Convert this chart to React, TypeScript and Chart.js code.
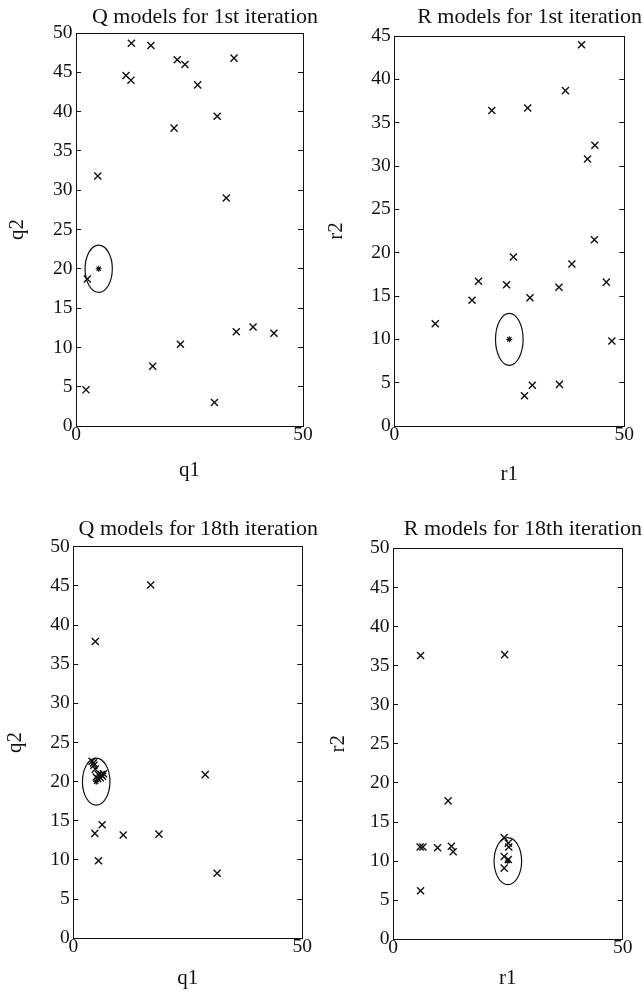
import React, { useEffect, useRef } from "react";
import { Chart, registerables } from "chart.js";

Chart.register(...registerables);

// Q models, 1st iteration
const q1Iter1 = [12.2, 16.5, 22.3, 24.0, 34.8, 11.0, 12.1, 26.8, 31.1, 21.6, 4.8, 33.1, 2.5, 35.3, 39.0, 43.6, 23.0, 16.9, 2.2, 30.5];
const q2Iter1 = [48.7, 48.4, 46.6, 46.0, 46.8, 44.6, 44.0, 43.4, 39.4, 37.9, 31.8, 29.0, 18.7, 12.0, 12.6, 11.8, 10.4, 7.6, 4.6, 3.0];

// R models, 1st iteration
const r1Iter1 = [40.7, 37.2, 21.2, 29.0, 43.6, 42.0, 43.5, 25.9, 38.6, 18.3, 24.4, 46.1, 35.8, 16.9, 29.5, 8.9, 47.3, 30.0, 35.9, 28.3];
const r2Iter1 = [44.0, 38.7, 36.4, 36.7, 32.4, 30.8, 21.5, 19.5, 18.7, 16.7, 16.3, 16.6, 16.0, 14.5, 14.8, 11.8, 9.8, 4.7, 4.8, 3.5];

// Q models, 18th iteration
const q1Iter18 = [16.9, 4.8, 28.8, 31.4, 6.3, 4.7, 10.9, 18.7, 5.5, 4.1, 4.4, 4.5, 4.8, 5.0, 5.5, 5.9, 6.4, 6.6, 5.3, 6.1];
const q2Iter18 = [45.1, 37.9, 20.9, 8.3, 14.5, 13.4, 13.2, 13.3, 9.9, 22.6, 22.4, 22.1, 21.6, 20.6, 20.9, 20.5, 20.7, 21.0, 20.4, 20.9];

// R models, 18th iteration
const r1Iter18 = [6.0, 24.3, 12.0, 5.9, 6.5, 9.7, 12.7, 13.1, 6.0, 24.2, 25.1, 25.2, 24.2, 25.1, 24.2];
const r2Iter18 = [36.3, 36.4, 17.7, 11.8, 11.8, 11.7, 11.9, 11.2, 6.2, 13.0, 12.3, 11.8, 10.6, 10.2, 9.1];

// True model (q1, q2) and (r1, r2), with the radius of the acceptance region
const trueQ = [5, 20];
const trueR = [25, 10];
const regionRadius = 3;

// Axis ranges
const axisMax = 50;
const r2Max1st = 45;
const tickStep = 5;

const SERIF = "'Liberation Serif', 'Times New Roman', Times, serif";
const INK = "#111";

const ellipsePlugin = {
  id: "confEllipse",
  afterDatasetsDraw(chart: any, _args: any, opts: any) {
    if (!opts || opts.cx == null) return;
    const xs = chart.scales.x;
    const ys = chart.scales.y;
    const cx = xs.getPixelForValue(opts.cx);
    const cy = ys.getPixelForValue(opts.cy);
    const rx = Math.abs(xs.getPixelForValue(opts.cx + opts.r) - cx);
    const ry = Math.abs(ys.getPixelForValue(opts.cy + opts.r) - cy);
    const ctx = chart.ctx;
    ctx.save();
    ctx.beginPath();
    ctx.ellipse(cx, cy, rx, ry, 0, 0, Math.PI * 2);
    ctx.strokeStyle = INK;
    ctx.lineWidth = 1.2;
    ctx.stroke();
    ctx.restore();
  },
};

type PanelProps = {
  title: string;
  xLabel: string;
  yLabel: string;
  xs: number[];
  ys: number[];
  center: number[];
  yMax: number;
  left: number;
  top: number;
  width: number;
  height: number;
  yAxisW: number;
  y2AxisW: number;
  xAxisH: number;
  titlePad: { top: number; bottom: number };
  yTitlePad: number;
  xTitlePad: number;
};

function Panel(p: PanelProps) {
  const ref = useRef<HTMLCanvasElement | null>(null);

  useEffect(() => {
    if (!ref.current) return;
    const points = p.xs.map((x, i) => ({ x, y: p.ys[i] }));
    const tickFont = { family: SERIF, size: 19.5, lineHeight: 1 };
    const labelFont = { family: SERIF, size: 21, lineHeight: 1 };
    const frame = { display: true, color: INK, width: 1 };

    const chart = new Chart(ref.current, {
      type: "scatter",
      data: {
        datasets: [
          {
            data: points,
            pointStyle: "crossRot",
            pointRadius: 5,
            borderColor: INK,
            backgroundColor: INK,
            borderWidth: 1.4,
          },
          {
            data: [{ x: p.center[0], y: p.center[1] }],
            pointStyle: "star",
            pointRadius: 3,
            borderColor: INK,
            backgroundColor: INK,
            borderWidth: 1.1,
          },
        ],
      },
      options: {
        responsive: false,
        animation: false,
        events: [],
        layout: { padding: 0 },
        plugins: {
          legend: { display: false },
          tooltip: { enabled: false },
          title: {
            display: true,
            text: p.title,
            align: "end",
            color: INK,
            font: { family: SERIF, size: 22, weight: "normal", lineHeight: 1 },
            padding: p.titlePad,
          },
          confEllipse: { cx: p.center[0], cy: p.center[1], r: regionRadius },
        } as any,
        scales: {
          x: {
            type: "linear",
            position: "bottom",
            min: 0,
            max: axisMax,
            ticks: { stepSize: axisMax, padding: -1, color: INK, font: tickFont, maxRotation: 0 },
            grid: { drawOnChartArea: false, drawTicks: false, color: INK },
            border: frame,
            title: { display: true, text: p.xLabel, color: INK, font: labelFont, padding: { top: 0, bottom: p.xTitlePad } },
            afterFit: (s: any) => {
              s.height = p.xAxisH;
            },
          },
          x2: {
            type: "linear",
            position: "top",
            min: 0,
            max: axisMax,
            ticks: { display: false, stepSize: axisMax },
            grid: { drawOnChartArea: false, drawTicks: false, color: INK },
            border: frame,
            afterFit: (s: any) => {
              s.height = 0;
            },
          },
          y: {
            type: "linear",
            position: "left",
            min: 0,
            max: p.yMax,
            ticks: { stepSize: tickStep, padding: 8.5, color: INK, font: tickFont },
            grid: { drawOnChartArea: false, drawTicks: true, tickLength: -5, color: INK },
            border: frame,
            title: { display: true, text: p.yLabel, color: INK, font: labelFont, padding: { top: p.yTitlePad, bottom: 0 } },
            afterFit: (s: any) => {
              s.width = p.yAxisW;
            },
          },
          y2: {
            type: "linear",
            position: "right",
            min: 0,
            max: p.yMax,
            ticks: { display: false, stepSize: tickStep },
            grid: { drawOnChartArea: false, drawTicks: true, tickLength: -5, color: INK },
            border: frame,
            afterFit: (s: any) => {
              s.width = p.y2AxisW;
            },
          },
        },
      } as any,
      plugins: [ellipsePlugin],
    });

    return () => chart.destroy();
  }, []);

  return (
    <canvas
      ref={ref}
      width={p.width}
      height={p.height}
      style={{ position: "absolute", left: p.left, top: p.top, width: p.width, height: p.height }}
    />
  );
}

export default function App() {
  return (
    <div style={{ position: "absolute", left: 0, top: 0, width: 642, height: 998, background: "#fff", overflow: "hidden" }}>
      <Panel
        title="Q models for 1st iteration"
        xLabel="q1"
        yLabel="q2"
        xs={q1Iter1}
        ys={q2Iter1}
        center={trueQ}
        yMax={axisMax}
        left={0}
        top={0}
        width={318}
        height={490}
        yAxisW={76}
        y2AxisW={15}
        xAxisH={64}
        titlePad={{ top: 6, bottom: 5 }}
        yTitlePad={6.5}
        xTitlePad={9.5}
      />
      <Panel
        title="R models for 1st iteration"
        xLabel="r1"
        yLabel="r2"
        xs={r1Iter1}
        ys={r2Iter1}
        center={trueR}
        yMax={r2Max1st}
        left={321}
        top={0}
        width={321}
        height={490}
        yAxisW={73.3}
        y2AxisW={17.7}
        xAxisH={64}
        titlePad={{ top: 6, bottom: 8 }}
        yTitlePad={4.5}
        xTitlePad={5.5}
      />
      <Panel
        title="Q models for 18th iteration"
        xLabel="q1"
        yLabel="q2"
        xs={q1Iter18}
        ys={q2Iter18}
        center={trueQ}
        yMax={axisMax}
        left={0}
        top={490}
        width={318}
        height={508}
        yAxisW={73.3}
        y2AxisW={15.7}
        xAxisH={59.7}
        titlePad={{ top: 28, bottom: 6.7 }}
        yTitlePad={4.5}
        xTitlePad={9.5}
      />
      <Panel
        title="R models for 18th iteration"
        xLabel="r1"
        yLabel="r2"
        xs={r1Iter18}
        ys={r2Iter18}
        center={trueR}
        yMax={axisMax}
        left={321}
        top={490}
        width={321}
        height={508}
        yAxisW={72}
        y2AxisW={19.3}
        xAxisH={58.7}
        titlePad={{ top: 28, bottom: 8.3 }}
        yTitlePad={7}
        xTitlePad={9.5}
      />
    </div>
  );
}
